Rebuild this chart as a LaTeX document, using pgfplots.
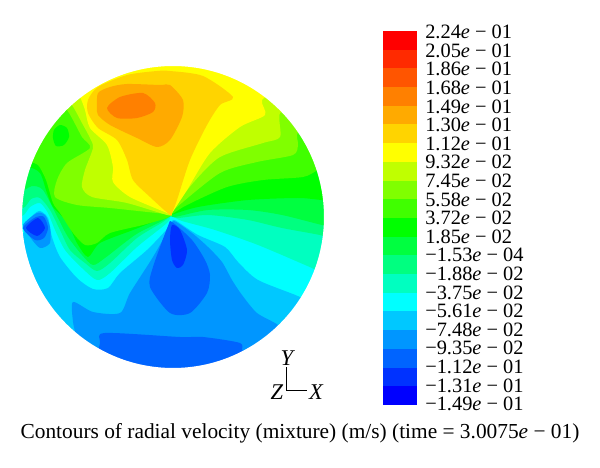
\documentclass[border=0pt]{standalone}
\usepackage{fontspec}
\setmainfont{Liberation Serif}
\usepackage{pgfplots}
\pgfplotsset{compat=1.18}
% colour bands, top to bottom
\definecolor{c0}{HTML}{FF0000}
\definecolor{c1}{HTML}{FF2A00}
\definecolor{c2}{HTML}{FF5500}
\definecolor{c3}{HTML}{FF8000}
\definecolor{c4}{HTML}{FFAA00}
\definecolor{c5}{HTML}{FFD400}
\definecolor{c6}{HTML}{FFFF00}
\definecolor{c7}{HTML}{C0FF00}
\definecolor{c8}{HTML}{80FF00}
\definecolor{c9}{HTML}{40FF00}
\definecolor{c10}{HTML}{00FF00}
\definecolor{c11}{HTML}{00FF40}
\definecolor{c12}{HTML}{00FF80}
\definecolor{c13}{HTML}{00FFC0}
\definecolor{c14}{HTML}{00FFFF}
\definecolor{c15}{HTML}{00C8FF}
\definecolor{c16}{HTML}{0096FF}
\definecolor{c17}{HTML}{0064FF}
\definecolor{c18}{HTML}{0032FF}
\definecolor{c19}{HTML}{0000FF}
\newcommand{\reg}[2]{\addplot[fill=#1,draw=none,smooth cycle,tension=0.45] coordinates {#2};}
\newcommand{\band}[3]{\addplot[fill=#1,draw=none] coordinates {(383,#2)(417,#2)(417,#3)(383,#3)};}
\newcommand{\lab}[3]{\node[anchor=west,font=\fontsize{14.5pt}{16pt}\selectfont,inner sep=0pt] at (axis cs:#1,#2) {#3};}
\begin{document}
\begin{tikzpicture}
\begin{axis}[
  width=15cm, height=11.7cm, scale only axis,
  xmin=0, xmax=600, ymin=0, ymax=468, y dir=reverse,
  hide axis]
% base and cold side
\reg{c14}{(343,217)(320,132)(258,70)(173,47)(88,70)(26,132)(3,217)(26,302)(88,364)(173,387)(258,364)(320,302)}
\reg{c15}{(173,220)(178,222)(198,235)(225,247)(238,262)(258,280)(300,297)(325,312)(258,370)(173,387)(88,364)(26,302)(3,235)(22,235)(27,223)(33,215)(40,211)(48,218)(52,237)(60,257)(77,278)(93,289)(108,288)(120,273)(147,250)(168,228)}
\reg{c16}{(174,221)(192,233)(208,247)(222,262)(232,280)(242,295)(257,313)(278,325)(300,345)(258,375)(173,390)(100,385)(70,365)(76,340)(73,322)(73,302)(93,312)(120,313)(130,293)(153,257)(170,227)}
\reg{c17}{(172,222)(192,240)(205,260)(210,275)(207,293)(190,313)(170,313)(150,287)(153,267)(168,226)}
\reg{c18}{(172,225)(180,230)(187,250)(183,265)(177,268)(172,260)(170,240)}
\reg{c17}{(100,375)(100,343)(105,333)(180,337)(203,337)(240,343)(243,352)(262,368)(173,392)}
% vortex on the left rim
\reg{c16}{(23,225)(37,213)(45,215)(50,227)(50,243)(40,248)(30,237)}
\reg{c17}{(23,228)(36,217)(44,217)(48,228)(44,238)(35,240)}
\reg{c18}{(26,228)(38,218)(45,228)(37,236)}
% warm side, nested
\reg{c13}{(171,216)(182,221)(215,230)(258,245)(312,268)(330,276)(343,217)(320,132)(258,70)(173,47)(88,70)(26,132)(3,213)(22,216)(30,207)(40,203)(48,213)(55,230)(65,250)(82,268)(97,280)(110,273)(137,247)(167,223)}
\reg{c12}{(171,216)(178,218)(208,215)(248,220)(282,228)(320,235)(340,240)(343,217)(320,132)(258,70)(173,47)(88,70)(26,132)(3,205)(23,208)(31,199)(40,198)(50,210)(60,230)(70,250)(85,263)(97,271)(110,263)(137,238)(163,222)}
\reg{c11}{(171,216)(175,217)(208,210)(248,210)(282,215)(322,225)(340,228)(343,200)(320,132)(258,70)(173,47)(88,70)(26,132)(3,195)(24,190)(32,186)(43,190)(58,218)(68,237)(82,255)(93,265)(105,258)(135,235)(160,222)}
\reg{c10}{(171,215)(198,207)(248,200)(298,198)(322,200)(340,200)(320,132)(258,70)(173,47)(88,70)(26,132)(3,165)(28,167)(40,173)(47,193)(53,207)(67,222)(77,243)(88,257)(100,243)(133,230)(163,218)}
\reg{c9}{(171,215)(187,205)(227,187)(263,180)(303,177)(318,170)(340,160)(320,132)(258,70)(173,47)(88,70)(26,132)(3,160)(28,162)(38,165)(46,180)(53,203)(60,213)(73,233)(85,245)(97,243)(110,233)(143,225)(167,218)}
\reg{c8}{(171,214)(177,207)(220,173)(257,162)(293,155)(298,145)(298,132)(320,120)(258,70)(173,47)(88,70)(55,97)(67,110)(73,120)(82,137)(90,148)(67,163)(57,180)(55,197)(77,205)(110,208)(157,213)}
\reg{c10}{(60,125)(67,128)(69,137)(64,145)(56,146)(53,138)(54,130)}
\reg{c7}{(171,214)(173,210)(193,183)(220,157)(263,143)(280,137)(280,113)(300,100)(258,70)(173,47)(88,70)(60,92)(72,105)(82,123)(90,138)(93,148)(85,170)(82,187)(92,197)(127,203)(167,215)}
\reg{c6}{(170,215)(172,213)(187,190)(210,153)(240,127)(265,115)(262,100)(280,85)(258,70)(173,47)(88,70)(70,80)(80,97)(85,110)(90,128)(107,145)(113,167)(113,182)(130,197)(167,213)}
\reg{c5}{(170,215)(150,197)(133,180)(127,160)(117,140)(98,128)(88,113)(88,100)(98,87)(127,75)(157,71)(170,71)(203,76)(233,97)(220,105)(207,125)(190,160)(177,200)(172,213)}
\reg{c4}{(97,107)(98,93)(110,87)(127,84)(160,85)(170,85)(183,100)(182,117)(170,140)(157,147)(137,138)(110,125)(98,115)}
\reg{c3}{(107,108)(120,97)(143,93)(155,103)(153,112)(137,118)(117,118)}
% white ring trims everything to the disc
\draw[white, line width=24.2pt] (axis cs:173,217) circle [radius=168];
% colour bar
\band{c0}{31}{49.7}
\band{c1}{49.7}{68.4}
\band{c2}{68.4}{87.1}
\band{c3}{87.1}{105.8}
\band{c4}{105.8}{124.5}
\band{c5}{124.5}{143.2}
\band{c6}{143.2}{161.9}
\band{c7}{161.9}{180.6}
\band{c8}{180.6}{199.3}
\band{c9}{199.3}{218}
\band{c10}{218}{236.7}
\band{c11}{236.7}{255.4}
\band{c12}{255.4}{274.1}
\band{c13}{274.1}{292.8}
\band{c14}{292.8}{311.5}
\band{c15}{311.5}{330.2}
\band{c16}{330.2}{348.9}
\band{c17}{348.9}{367.6}
\band{c18}{367.6}{386.3}
\band{c19}{386.3}{405}
% level labels
\lab{425}{32}{2.24\textit{e} − 01}
\lab{425}{50.6}{2.05\textit{e} − 01}
\lab{425}{69.2}{1.86\textit{e} − 01}
\lab{425}{87.8}{1.68\textit{e} − 01}
\lab{425}{106.4}{1.49\textit{e} − 01}
\lab{425}{125}{1.30\textit{e} − 01}
\lab{425}{143.6}{1.12\textit{e} − 01}
\lab{425}{162.2}{9.32\textit{e} − 02}
\lab{425}{180.8}{7.45\textit{e} − 02}
\lab{425}{199.4}{5.58\textit{e} − 02}
\lab{425}{218}{3.72\textit{e} − 02}
\lab{425}{236.6}{1.85\textit{e} − 02}
\lab{425}{255.2}{−1.53\textit{e} − 04}
\lab{425}{273.8}{−1.88\textit{e} − 02}
\lab{425}{292.4}{−3.75\textit{e} − 02}
\lab{425}{311}{−5.61\textit{e} − 02}
\lab{425}{329.6}{−7.48\textit{e} − 02}
\lab{425}{348.2}{−9.35\textit{e} − 02}
\lab{425}{366.8}{−1.12\textit{e} − 01}
\lab{425}{385.4}{−1.31\textit{e} − 01}
\lab{425}{404}{−1.49\textit{e} − 01}
% axes triad
\addplot[black, line width=0.6pt] coordinates {(286,367)(286,390)(307,390)};
\node[font=\fontsize{16pt}{18pt}\selectfont\itshape,inner sep=0pt] at (axis cs:287,358) {Y};
\node[font=\fontsize{16pt}{18pt}\selectfont\itshape,inner sep=0pt] at (axis cs:277,392) {Z};
\node[font=\fontsize{16pt}{18pt}\selectfont\itshape,inner sep=0pt] at (axis cs:316,392) {X};
% caption
\node[font=\fontsize{15.2pt}{18pt}\selectfont,inner sep=0pt] at (axis cs:300,433) {Contours of radial velocity (mixture) (m/s) (time = 3.0075\textit{e} − 01)};
\path[use as bounding box] (axis cs:0,0) rectangle (axis cs:600,468);
\end{axis}
\end{tikzpicture}
\end{document}
